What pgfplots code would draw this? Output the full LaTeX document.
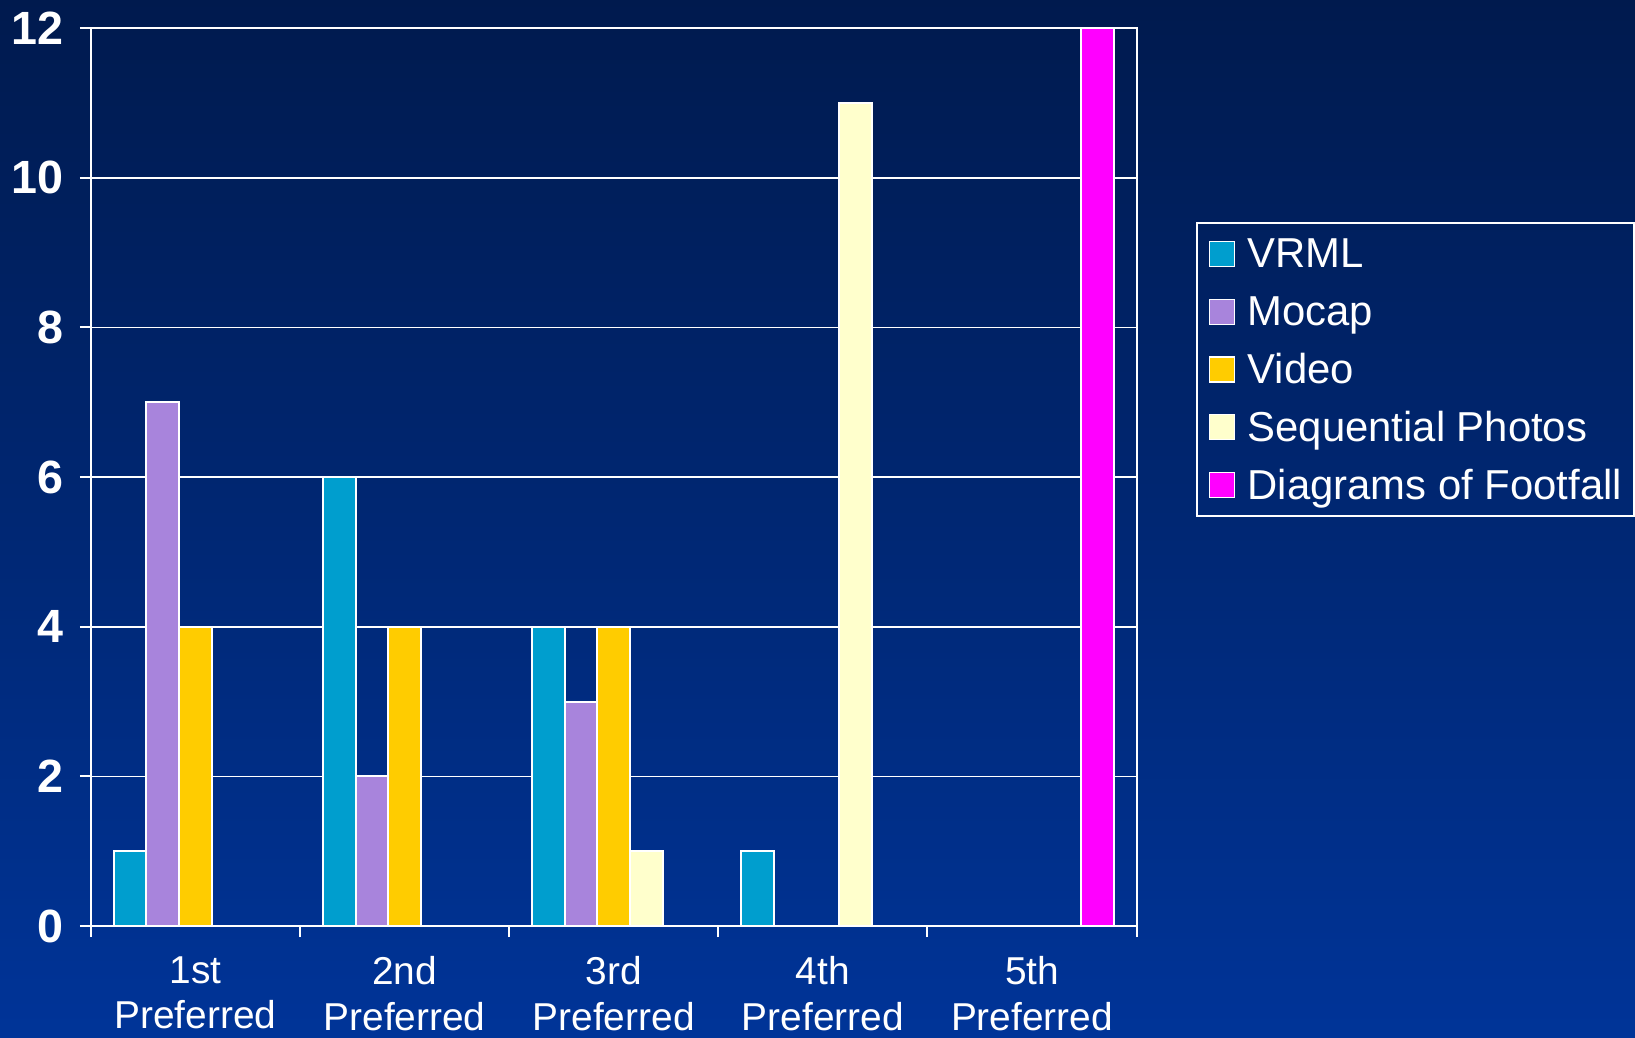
\documentclass[border=0pt]{standalone}
\usepackage{fontspec}
\setmainfont{Liberation Sans}
\usepackage{pgfplots}
\pgfplotsset{compat=1.18}
\definecolor{bgtop}{RGB}{0,26,78}
\definecolor{bgbot}{RGB}{0,52,152}
\definecolor{cvrml}{RGB}{0,158,206}
\definecolor{cmocap}{RGB}{168,132,220}
\definecolor{cvideo}{RGB}{255,204,0}
\definecolor{cseq}{RGB}{255,255,204}
\definecolor{cdiag}{RGB}{255,0,255}
\begin{document}
\begin{tikzpicture}
\shade[top color=bgtop, bottom color=bgbot] (0,0) rectangle (817.5bp,519bp);
\useasboundingbox (0,0) rectangle (817.5bp,519bp);
\begin{axis}[
  at={(45.4bp,56bp)}, anchor=south west,
  scale only axis, width=522.9bp, height=448.9bp,
  xmin=-0.5, xmax=4.5, ymin=0, ymax=12,
  ytick={0,2,...,12},
  xtick={-0.5,0.5,...,4.5}, xticklabels={},
  extra x ticks={0,1,2,3,4},
  extra x tick labels={{1st\\Preferred},{2nd\\Preferred},{3rd\\Preferred},{4th\\Preferred},{5th\\Preferred}},
  extra x tick style={tick style={draw=none}, grid=none,
     xticklabel style={font=\fontsize{19.5}{23}\selectfont, align=center, anchor=north, inner sep=0pt, yshift=-9.5bp, text=white}},
  xtick pos=bottom, ytick pos=left,
  tick align=outside, major tick length=5.5bp,
  axis line style={white, line width=1bp},
  tick style={white, line width=1bp},
  ymajorgrids, grid style={white, line width=0.85bp},
  /pgf/number format/assume math mode=true,
  yticklabel style={font=\fontsize{23.4}{28}\selectfont\bfseries, text=white, inner sep=0pt, xshift=-8bp},
  ybar=0pt, bar width=0.156,
  legend style={at={(1.0568,0.784)}, anchor=north west, draw=white, line width=0.8bp, fill=none,
     text=white, font=\fontsize{21}{24}\selectfont, inner xsep=6bp, inner ysep=1bp, row sep=0pt, column sep=6.3bp,
     cells={anchor=west}, nodes={inner sep=0pt, text height=21.5bp, text depth=7.4bp}},
  legend image code/.code={\draw[#1, draw=white, line width=0.6bp] (0bp,-6.25bp) rectangle (12.5bp,6.25bp);},
]
\addplot[fill=cvrml, draw=white, line width=1bp] coordinates {(0,1) (1,6) (2,4) (3,1) (4,0)};
\addplot[fill=cmocap, draw=white, line width=1bp] coordinates {(0,7) (1,2) (2,3) (3,0) (4,0)};
\addplot[fill=cvideo, draw=white, line width=1bp] coordinates {(0,4) (1,4) (2,4) (3,0) (4,0)};
\addplot[fill=cseq, draw=white, line width=1bp] coordinates {(0,0) (1,0) (2,1) (3,11) (4,0)};
\addplot[fill=cdiag, draw=white, line width=1bp] coordinates {(0,0) (1,0) (2,0) (3,0) (4,12)};
\legend{VRML, Mocap, Video, Sequential Photos, Diagrams of Footfall}
\end{axis}
\end{tikzpicture}
\end{document}
